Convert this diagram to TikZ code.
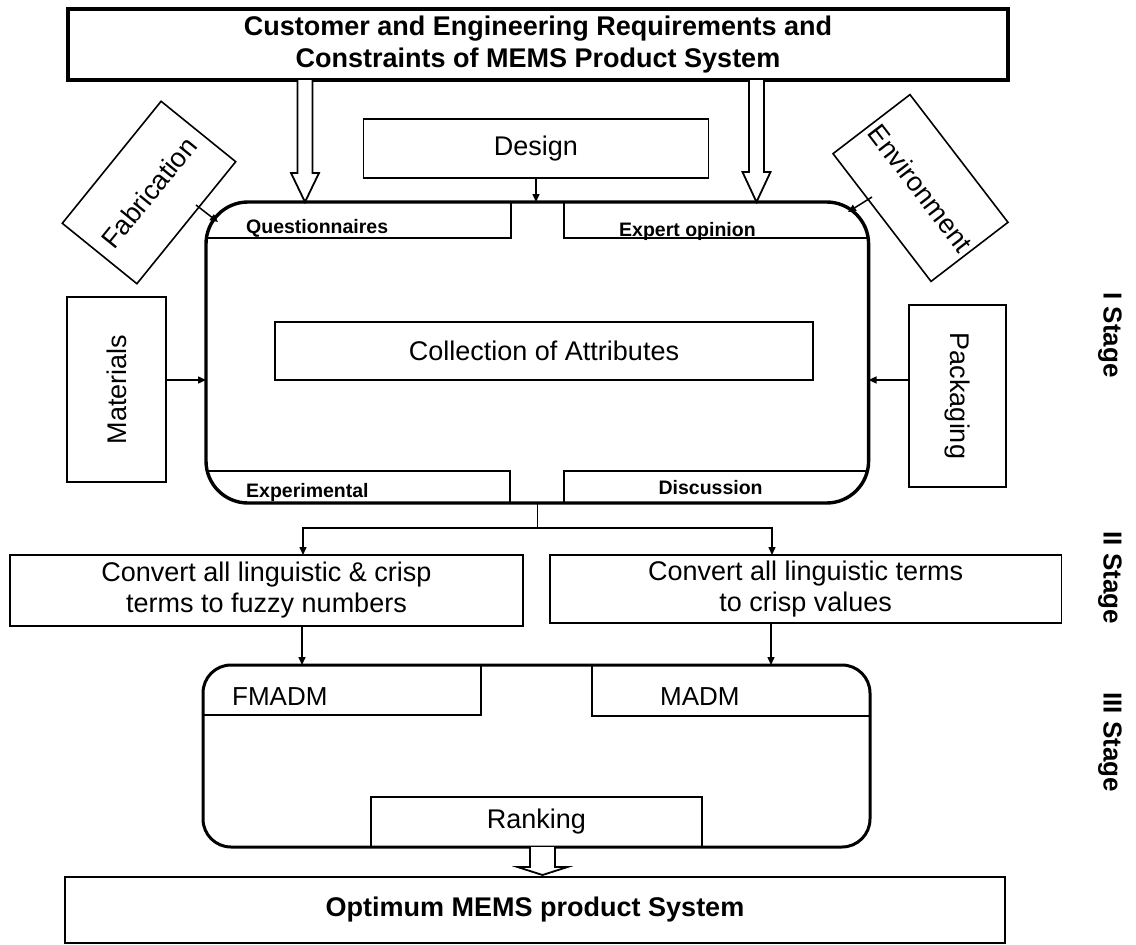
\documentclass[tikz,border=0pt]{standalone}
\usepackage{fontspec}
\setmainfont{Liberation Sans}
\usetikzlibrary{arrows.meta,calc}
\begin{document}
\begin{tikzpicture}[x=1pt,y=1pt,
  thinbox/.style={draw, line width=1.6pt, inner sep=0pt, outer sep=0pt},
  thickbox/.style={draw, line width=3.4pt, inner sep=0pt, outer sep=0pt},
  plain/.style={inner sep=0pt, outer sep=0pt},
  subline/.style={line width=1.6pt},
  conn/.style={line width=1.5pt},
  arr/.style={line width=1.5pt, -{Triangle[length=8pt,width=7pt]}},
  hollow/.style={draw, line width=1.8pt, fill=white, line join=miter},
  big/.style={font=\fontsize{27}{31}\selectfont},
  bigb/.style={font=\fontsize{27}{32}\selectfont\bfseries},
  mid/.style={font=\fontsize{26}{30}\selectfont},
  small/.style={font=\fontsize{19.5}{22}\selectfont\bfseries, inner sep=0pt},
  stage/.style={font=\fontsize{26}{30}\selectfont\bfseries, rotate=-90, inner sep=0pt}
]
\useasboundingbox (0,0) rectangle (1136,-945);

% ---------- Stage I ----------
\node[thickbox, minimum width=940pt, minimum height=71pt, align=center, bigb] (top) at (538,-44.5)
  {Customer and Engineering Requirements and\\Constraints of MEMS Product System};

\node[thinbox, minimum width=345pt, minimum height=59pt, big] (design) at (536,-148.5) {Design};

\node[thickbox, rounded corners=42pt, minimum width=662.6pt, minimum height=301pt] (main) at (537.3,-352.5) {};

% sub-boxes of the attribute box
\node[plain, anchor=north west, minimum width=305pt, minimum height=36pt] (qbox) at (main.north west) {};
\draw[subline] (qbox.south west) -- (qbox.south east) -- (qbox.north east);
\node[small, anchor=base west] (qtxt) at (246,-233) {Questionnaires};

\node[plain, anchor=north east, minimum width=304.6pt, minimum height=36pt] (ebox) at (main.north east) {};
\draw[subline] (ebox.north west) -- (ebox.south west) -- (ebox.south east);
\node[small, anchor=base west] (etxt) at (619,-236) {Expert opinion};

\node[plain, anchor=south west, minimum width=304pt, minimum height=32pt] (xbox) at (main.south west) {};
\draw[subline] (xbox.north west) -- (xbox.north east) -- (xbox.south east);
\node[small, anchor=base west] (xtxt) at (246,-497) {Experimental};

\node[plain, anchor=south east, minimum width=304.6pt, minimum height=32pt] (dbox) at (main.south east) {};
\draw[subline] (dbox.south west) -- (dbox.north west) -- (dbox.north east);
\node[small, anchor=base] (dtxt) at (710.6,-494) {Discussion};

\node[thinbox, minimum width=538.5pt, minimum height=58pt, big] (coll) at (544,-351) {Collection of Attributes};

\node[thinbox, minimum width=157pt, minimum height=96pt, rotate=51, big] (fab) at (149,-192.5) {Fabrication};
\node[thinbox, minimum width=161pt, minimum height=97pt, rotate=-52.5, big] (env) at (920.5,-188) {Environment};
\node[thinbox, minimum width=185pt, minimum height=99pt, rotate=90, big] (mat) at (116.5,-389.5) {Materials};
\node[thinbox, minimum width=182pt, minimum height=97pt, rotate=-90, big] (pack) at (957.5,-396) {Packaging};

% hollow arrows from the requirements box
\coordinate (h1) at (305,-80);
\draw[hollow] (h1) ++(-7.5,0) -- ++(0,-93) -- ++(-6.5,0) -- ++(14,-29) -- ++(14,29) -- ++(-6.5,0) -- ++(0,93);
\coordinate (h2) at (756.5,-80);
\draw[hollow] (h2) ++(-7.5,0) -- ++(0,-92) -- ++(-6.5,0) -- ++(14,-30) -- ++(14,30) -- ++(-6.5,0) -- ++(0,92);

% thin arrows into the attribute box
\draw[arr] (design.south) -- (design.south |- main.north);
\coordinate (fabout) at (196,-205);
\coordinate (fabin) at (218,-222);
\draw[arr] (fabout) -- (fabin);
\coordinate (envout) at (872,-197);
\coordinate (envin) at (848,-212);
\draw[arr] (envout) -- (envin);
\coordinate (y380) at (0,-380);
\draw[arr] (mat.south |- y380) -- (main.west |- y380);
\draw[arr] (pack.south |- y380) -- (main.east |- y380);

% ---------- Stage II ----------
\node[thinbox, minimum width=513pt, minimum height=71pt, align=center, big] (conv1) at (266.5,-590.5)
  {Convert all linguistic \& crisp\\terms to fuzzy numbers};
\node[thinbox, minimum width=511.5pt, minimum height=68pt, align=center, big] (conv2) at (805.75,-589)
  {Convert all linguistic terms\\to crisp values};

\coordinate (br) at (537.5,-528);
\coordinate (c1in) at (303,-555);
\coordinate (c2in) at (772,-555);
\draw[conn] (main.south -| br) -- (br);
\draw[arr] (br) -| (c1in);
\draw[arr] (br) -| (c2in);

% ---------- Stage III ----------
\node[draw, line width=3pt, inner sep=0pt, outer sep=0pt, rounded corners=28pt, minimum width=667pt, minimum height=182pt] (dec) at (536.5,-756) {};

\node[plain, anchor=north west, minimum width=278pt, minimum height=50pt] (fbox) at (dec.north west) {};
\draw[subline] (fbox.south west) -- (fbox.south east) -- (fbox.north east);
\node[mid, inner sep=0pt, anchor=base west] (ftxt) at (232,-705) {FMADM};

\node[plain, anchor=north east, minimum width=278pt, minimum height=51pt] (mbox) at (dec.north east) {};
\draw[subline] (mbox.north west) -- (mbox.south west) -- (mbox.south east);
\node[mid, inner sep=0pt, anchor=base west] (mtxt) at (660,-705) {MADM};

\node[plain, minimum width=331pt, minimum height=50pt, big] (rank) at (536.5,-822) {Ranking};
\draw[subline] (rank.south west) -- (rank.north west) -- (rank.north east) -- (rank.south east);

\coordinate (a1) at (302,-626);
\coordinate (a2) at (771,-623);
\draw[arr] (a1) -- (a1 |- dec.north);
\draw[arr] (a2) -- (a2 |- dec.north);

\node[draw, line width=2.6pt, inner sep=0pt, outer sep=0pt, minimum width=940pt, minimum height=66pt, bigb] (opt) at (535,-910) {Optimum MEMS product System};

\coordinate (h3) at (542.5,-847);
\draw[hollow] (h3) ++(-12.5,0) -- ++(0,-20) -- ++(-12.5,0) -- ++(25,-8) -- ++(25,8) -- ++(-12.5,0) -- ++(0,20);

% ---------- stage labels ----------
\node[stage] (s1) at (1110,-335) {I Stage};
\node[stage] (s2) at (1110,-578) {II Stage};
\node[stage] (s3) at (1110,-742) {III Stage};
\end{tikzpicture}
\end{document}
